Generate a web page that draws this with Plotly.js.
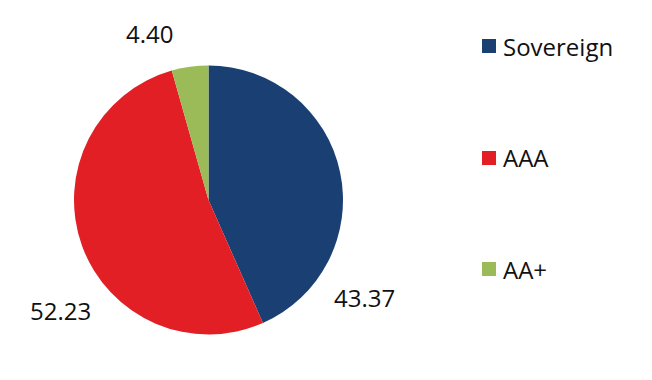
<!DOCTYPE html>
<html>
<head>
<meta charset="utf-8">
<script src="https://cdn.plot.ly/plotly-3.0.1.min.js"></script>
<style>html,body{margin:0;padding:0;background:#fff;}#chart{width:652px;height:380px;}</style>
</head>
<body>
<div id="chart"></div>
<script>
const categories = ["Sovereign", "AAA", "AA+"];
const values = [43.37, 52.23, 4.40];
const colors = ["#1a3f73", "#e31f26", "#9bbb59"];

// layout helpers (positions in pixels of the 652x380 page)
const W = 652, H = 380;
const cx = 208.5, cy = 200, r = 134.5;
const labelPos = [[364, 297], [60, 310], [149, 33]];
const legendY = [46, 158, 269];
const legendX = 482, sq = 14, textX = 501;
const FONT = "Open Sans, Noto Sans, sans-serif";

const px = x => x / W;
const py = y => 1 - y / H;

const annotations = [];
const shapes = [];
categories.forEach((c, i) => {
  annotations.push({
    xref: "paper", yref: "paper",
    x: px(labelPos[i][0]), y: py(labelPos[i][1]),
    xanchor: "center", yanchor: "middle",
    text: values[i].toFixed(2), showarrow: false,
    font: {family: FONT, size: 24, color: "#111"}
  });
  annotations.push({
    xref: "paper", yref: "paper",
    x: px(textX), y: py(legendY[i]),
    xanchor: "left", yanchor: "middle",
    text: c, showarrow: false,
    font: {family: FONT, size: 24, color: "#111"}
  });
  shapes.push({
    type: "rect", xref: "paper", yref: "paper",
    x0: px(legendX), x1: px(legendX + sq),
    y0: py(legendY[i] + sq / 2), y1: py(legendY[i] - sq / 2),
    fillcolor: colors[i], line: {width: 0}
  });
});

const trace = {
  type: "pie",
  labels: categories,
  values: values,
  marker: {colors: colors, line: {width: 0}},
  sort: false,
  direction: "clockwise",
  rotation: 0,
  textinfo: "none",
  hoverinfo: "none",
  showlegend: false,
  automargin: false,
  domain: {x: [px(cx - r), px(cx + r)], y: [py(cy + r), py(cy - r)]}
};

Plotly.newPlot("chart", [trace], {
  width: W, height: H,
  margin: {l: 0, r: 0, t: 0, b: 0},
  paper_bgcolor: "#fff",
  showlegend: false,
  annotations: annotations,
  shapes: shapes
}, {staticPlot: true});
</script>
</body>
</html>
